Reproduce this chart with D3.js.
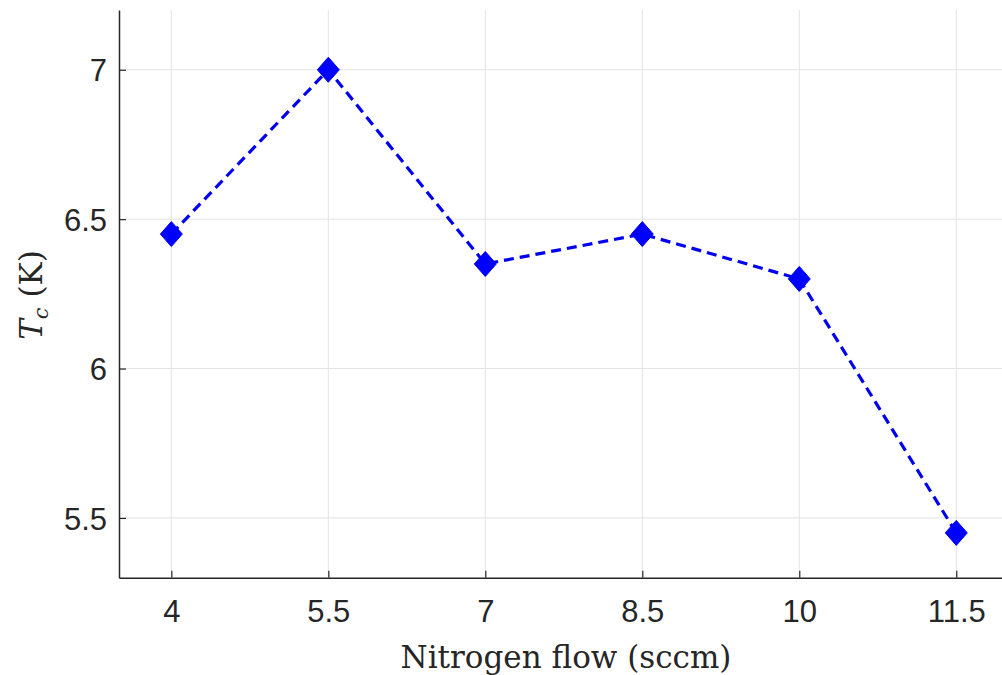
<!DOCTYPE html>
<html><head><meta charset="utf-8">
<script src="https://cdn.jsdelivr.net/npm/d3@7"></script>
<style>body{margin:0;background:#fff;}svg{display:block;}</style>
</head><body>
<svg id="c" width="1002" height="675"></svg>
<script>
const flow = [4, 5.5, 7, 8.5, 10, 11.5];
const tc = [6.45, 7.0, 6.35, 6.45, 6.3, 5.45];
const xTicks = [4, 5.5, 7, 8.5, 10, 11.5];
const yTicks = [5.5, 6, 6.5, 7];

const svg = d3.select("#c");
const L = 119, R = 1008.6, T = 10, B = 577.7;
const x = d3.scaleLinear().domain([3.5, 12]).range([L, R]);
const y = d3.scaleLinear().domain([5.3, 7.2]).range([B, T]);

// grid
const g = svg.append("g");
g.selectAll(".gx").data(xTicks).enter().append("line")
  .attr("x1", d => x(d)).attr("x2", d => x(d)).attr("y1", T).attr("y2", B)
  .attr("stroke", "#e3e3e3").attr("stroke-width", 1);
g.selectAll(".gy").data(yTicks).enter().append("line")
  .attr("x1", L).attr("x2", 1002).attr("y1", d => y(d)).attr("y2", d => y(d))
  .attr("stroke", "#e3e3e3").attr("stroke-width", 1);

// axes
const xAxis = d3.axisBottom(x).tickValues(xTicks).tickSizeInner(-7).tickSizeOuter(0).tickFormat(d3.format("~g"));
const yAxis = d3.axisLeft(y).tickValues(yTicks).tickSizeInner(-7).tickSizeOuter(0).tickFormat(d3.format("~g"));
const ax = svg.append("g").attr("transform", `translate(0,${B})`).call(xAxis);
const ay = svg.append("g").attr("transform", `translate(${L},0)`).call(yAxis);
[ax, ay].forEach(a => {
  a.select(".domain").attr("stroke", "#262626").attr("stroke-width", 1.5);
  a.selectAll(".tick line").attr("stroke", "#262626").attr("stroke-width", 1.2);
  a.selectAll(".tick text").attr("fill", "#262626")
    .style("font-family", "'Liberation Sans', Arial, sans-serif").style("font-size", "31px");
});
ax.selectAll(".tick text").attr("dy", "0.71em").attr("y", 22);
ay.selectAll(".tick text").attr("x", -12).attr("dy", "0.36em");

// line
const line = d3.line().x((d, i) => x(flow[i])).y(d => y(d));
svg.append("path").datum(tc).attr("d", line)
  .attr("fill", "none").attr("stroke", "#0000ee").attr("stroke-width", 3.2)
  .attr("stroke-dasharray", "10,6");

// markers (diamond)
const hw = 11, hh = 12.5;
svg.selectAll(".m").data(tc).enter().append("path")
  .attr("d", `M0,${-hh}L${hw},0L0,${hh}L${-hw},0Z`)
  .attr("transform", (d, i) => `translate(${x(flow[i])},${y(d)})`)
  .attr("fill", "#0000ff").attr("stroke", "#0000ff").attr("stroke-width", 1);

// labels
svg.append("text").attr("x", 566).attr("y", 668).attr("text-anchor", "middle")
  .style("font-family", "'DejaVu Serif', 'Liberation Serif', serif").style("font-size", "31px")
  .attr("fill", "#262626").text("Nitrogen flow (sccm)");
const yl = svg.append("text").attr("transform", "translate(42,295) rotate(-90)").attr("text-anchor", "middle")
  .style("font-family", "'DejaVu Serif', 'Liberation Serif', serif").style("font-size", "31px").attr("fill", "#262626");
yl.append("tspan").style("font-style", "italic").text("T");
yl.append("tspan").style("font-style", "italic").style("font-size", "21px").attr("dy", 6).text("c");
yl.append("tspan").attr("dy", -6).text(" (K)");
</script>
</body></html>
